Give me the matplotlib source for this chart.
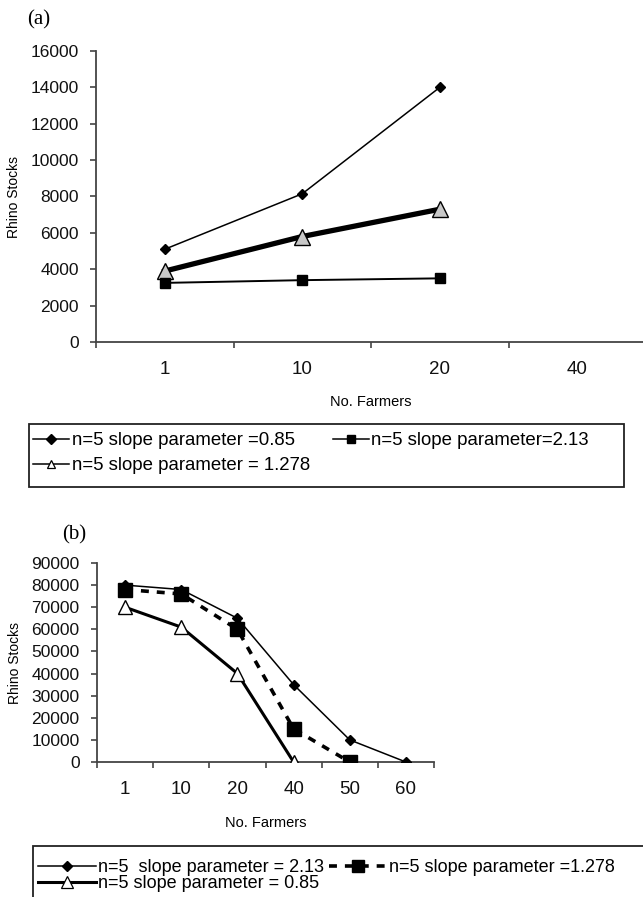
import numpy as np
import matplotlib
matplotlib.use("Agg")
import matplotlib.pyplot as plt
from matplotlib.patches import Rectangle
from matplotlib.lines import Line2D

plt.rcParams['font.family'] = ['Liberation Sans', 'DejaVu Sans']

# ---- data (a) ----
cats_a = ['1', '10', '20', '40']
a_085 = [5100, 8150, 14000]
a_213 = [3250, 3400, 3500]
a_1278 = [3900, 5800, 7300]
labels_a = ['n=5 slope parameter =0.85', 'n=5 slope parameter=2.13',
            'n=5 slope parameter = 1.278']

# ---- data (b) ----
cats_b = ['1', '10', '20', '40', '50', '60']
b_213 = [80000, 78000, 65000, 35000, 10000, 0]
b_1278 = [78000, 76000, 60000, 15000, 0]
b_085 = [70000, 61000, 40000, 0]
labels_b = ['n=5  slope parameter = 2.13', 'n=5 slope parameter =1.278',
            'n=5 slope parameter = 0.85']

W, H = 643, 897
fig = plt.figure(figsize=(W / 100, H / 100), dpi=100)


def fx(px):
    return px / W


def fy(py):
    return 1 - py / H


def style_axes(ax, ncat, ymax, ystep):
    for s in ['top', 'right']:
        ax.spines[s].set_visible(False)
    for s in ['left', 'bottom']:
        ax.spines[s].set_color('#444444')
        ax.spines[s].set_linewidth(1.3)
    ax.set_xlim(-0.5, ncat - 0.5)
    ax.set_ylim(0, ymax)
    ax.set_yticks(np.arange(0, ymax + 1, ystep))
    ax.set_xticks(np.arange(ncat))
    ax.set_xticks(np.arange(-0.5, ncat), minor=True)
    ax.tick_params(axis='x', which='major', length=0, pad=14, labelsize=13.5,
                   labelcolor='#111111')
    ax.tick_params(axis='x', which='minor', length=4, width=1.2, color='#444444',
                   direction='out')
    ax.tick_params(axis='y', length=4.5, width=1.2, color='#444444', pad=8,
                   labelsize=12.5, labelcolor='#111111')
    ax.patch.set_alpha(0)


# ---------------- chart (a) ----------------
wa = 646 - 96
axa = fig.add_axes([fx(96), fy(342), fx(wa), (342 - 51) / H])
xa = np.arange(len(a_085))
axa.plot(xa, a_085, color='black', lw=1.1, marker='D', ms=5.5,
         mfc='black', mec='black', zorder=3)
axa.plot(xa, a_1278, color='black', lw=3.8, marker='^', ms=12,
         mfc='#c8c8c8', mec='black', mew=1.0, zorder=4)
axa.plot(xa, a_213, color='black', lw=1.4, marker='s', ms=7,
         mfc='black', mec='black', zorder=5)
style_axes(axa, len(cats_a), 16000, 2000)
axa.set_xticklabels(cats_a)
axa.set_ylabel('Rhino Stocks', fontsize=10)
axa.yaxis.set_label_coords((21 - 96) / wa, 0.5)
axa.set_xlabel('No. Farmers', fontsize=10.5)
axa.xaxis.set_label_coords(0.5, -(395 - 342) / (342 - 51))
fig.text(fx(27), fy(20), '(a)', family='Liberation Serif', fontsize=15,
         ha='left', va='center')

# legend (a)
ha1 = Line2D([], [], color='black', lw=1.1, marker='D', ms=5, mfc='black')
ha2 = Line2D([], [], color='black', lw=1.1, marker='s', ms=6, mfc='black')
ha3 = Line2D([], [], color='black', lw=1.1, marker='^', ms=6, mfc='white',
             mec='black', mew=0.9)
leg_a = fig.legend([ha1, ha3, ha2], [labels_a[0], labels_a[2], labels_a[1]],
                   ncol=2, loc='upper left',
                   bbox_to_anchor=(fx(33), fy(432)), frameon=False,
                   fontsize=13.4, handlelength=1.95, handletextpad=0.12,
                   columnspacing=1.25, labelspacing=0.45, borderpad=0.0,
                   borderaxespad=0, numpoints=1)
fig.add_artist(Rectangle((fx(29), fy(487)), fx(624 - 29), (487 - 424) / H,
                         transform=fig.transFigure, fill=False,
                         edgecolor='#222222', lw=1.3))

# ---------------- chart (b) ----------------
wb = 434 - 97
axb = fig.add_axes([fx(97), fy(762), fx(wb), (762 - 563) / H])
axb.plot(np.arange(len(b_213)), b_213, color='black', lw=1.1, marker='D',
         ms=5.5, mfc='black', mec='black', zorder=3)
axb.plot(np.arange(len(b_1278)), b_1278, color='black', lw=2.6,
         linestyle=(0, (2.2, 2.2)), marker='s', ms=10, mfc='black',
         mec='black', zorder=4)
axb.plot(np.arange(len(b_085)), b_085, color='black', lw=2.2, marker='^',
         ms=10, mfc='white', mec='black', mew=1.0, zorder=5)
style_axes(axb, len(cats_b), 90000, 10000)
axb.set_xticklabels(cats_b)
axb.set_ylabel('Rhino Stocks', fontsize=10)
axb.yaxis.set_label_coords((22 - 97) / wb, 0.5)
axb.set_xlabel('No. Farmers', fontsize=10.5)
axb.xaxis.set_label_coords(0.5, -(816 - 762) / (762 - 563))
fig.text(fx(62), fy(535), '(b)', family='Liberation Serif', fontsize=15,
         ha='left', va='center')

# legend (b)
hb1 = Line2D([], [], color='black', lw=1.1, marker='D', ms=5, mfc='black')
hb2 = Line2D([], [], color='black', lw=2.6, linestyle=(0, (2.2, 2.2)),
             marker='s', ms=8, mfc='black')
hb3 = Line2D([], [], color='black', lw=2.2, marker='^', ms=8, mfc='white',
             mec='black', mew=0.9)
leg_b = fig.legend([hb1, hb3, hb2], [labels_b[0], labels_b[2], labels_b[1]],
                   ncol=2, loc='upper left',
                   bbox_to_anchor=(fx(38), fy(859)), frameon=False,
                   fontsize=13.0, handlelength=3.2, handletextpad=0.12,
                   columnspacing=0.3, labelspacing=-0.05, borderpad=0.0,
                   borderaxespad=0, numpoints=1)
fig.add_artist(Rectangle((fx(33), fy(905)), fx(660 - 33), (905 - 846) / H,
                         transform=fig.transFigure, fill=False,
                         edgecolor='#222222', lw=1.3, clip_on=False))

fig.savefig('out.png', dpi=100)
